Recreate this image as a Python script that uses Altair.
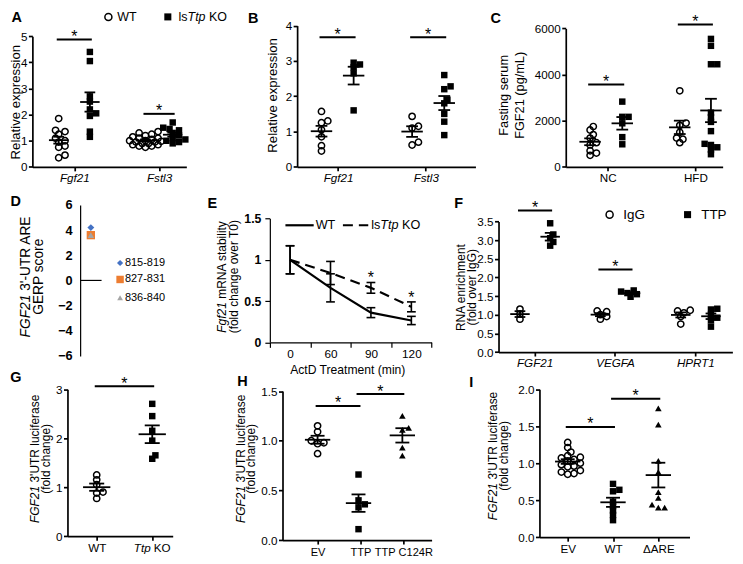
import altair as alt
import numpy as np
import pandas as pd

# ================= data =================
# A  (relative expression, liver)
A_genes = ["Fgf21", "Fstl3"]
A_wt_fgf21 = [1.85, 1.4, 1.35, 1.25, 1.1, 1.0, 0.95, 0.8, 0.75, 0.45, 0.35]
A_ko_fgf21 = [4.4, 4.05, 2.7, 2.5, 2.2, 2.05, 1.95, 1.35, 1.15]
A_wt_fstl3 = [1.35, 1.3, 1.25, 1.2, 1.15, 1.1, 1.1, 1.05, 1.0, 1.0, 0.98, 0.95,
              0.95, 0.9, 0.9, 0.85, 0.85, 0.8, 0.8, 0.75]
A_ko_fstl3 = [1.7, 1.5, 1.45, 1.4, 1.3, 1.2, 1.1, 1.05, 1.0, 0.95, 0.9]
A_sig = [4.88, 2.03]
# B
B_genes = ["Fgf21", "Fstl3"]
B_wt_fgf21 = [1.57, 1.3, 1.25, 1.05, 0.85, 0.6, 0.45]
B_ko_fgf21 = [2.95, 2.9, 2.82, 2.65, 1.6]
B_wt_fstl3 = [1.43, 1.15, 1.1, 0.7, 0.62]
B_ko_fstl3 = [2.6, 2.28, 2.2, 1.9, 1.8, 1.5, 1.28, 0.9]
B_sig = [3.67, 3.67]
# C
C_diets = ["NC", "HFD"]
C_wt_nc = [1750, 1600, 1400, 1250, 1050, 950, 700, 600, 500]
C_ko_nc = [2830, 2170, 2170, 1890, 1290, 980]
C_wt_hfd = [3300, 1900, 1800, 1500, 1250, 1200, 1050]
C_ko_hfd = [5550, 5250, 4450, 4450, 2350, 2150, 1950, 1550, 1000, 950, 850, 750, 550]
C_sig = [3570, 6170]
# D
D_sites = ["815-819", "827-831", "836-840"]
D_gerp = [4.2, 3.6, 3.6]
# E
E_times = ["0", "60", "90", "120"]
E_wt_mean = [1.0, 0.66, 0.36, 0.265]
E_wt_sem = [0.17, 0.17, 0.06, 0.05]
E_ko_mean = [1.0, 0.84, 0.66, 0.43]
E_ko_sem = [0.17, 0.14, 0.065, 0.06]
E_sig = [False, False, True, True]
# F
F_genes = ["FGF21", "VEGFA", "HPRT1"]
F_igg = [[1.15, 1.02, 0.88], [1.1, 1.08, 1.0, 0.95, 0.88], [1.12, 1.1, 1.05, 0.95, 0.75]]
F_ttp = [[3.45, 3.15, 3.05, 2.95, 2.85], [1.65, 1.62, 1.58, 1.55, 1.48],
         [1.16, 1.14, 1.0, 0.92, 0.85, 0.68]]
F_sig = [3.79, 2.21]
# G
G_groups = ["WT", "Ttp KO"]
G_wt = [1.25, 1.15, 1.05, 0.9, 0.88, 0.77]
G_ko = [2.7, 2.45, 2.15, 1.95, 1.65, 1.58]
G_sig = [3.06]
# H
H_groups = ["EV", "TTP", "TTP C124R"]
H_ev = [1.15, 1.09, 1.0, 0.98, 0.97, 0.87]
H_ttp = [0.66, 0.4, 0.36, 0.33, 0.11]
H_mut = [1.25, 1.13, 1.11, 0.93, 0.85]
H_sig = [1.35, 1.47]
# I
I_groups = ["EV", "WT", "ΔARE"]
I_ev = [1.28, 1.21, 1.15, 1.1, 1.08, 1.07, 1.05, 1.03, 1.0, 0.98, 0.96, 0.95,
        0.9, 0.88, 0.86, 0.85]
I_wt = [0.72, 0.64, 0.62, 0.48, 0.42, 0.36, 0.3, 0.23]
I_dare = [1.74, 1.52, 1.03, 0.88, 0.61, 0.53, 0.44, 0.4, 0.4]
I_sig = [1.49, 1.87]

# ================= layout / style helpers =================
SX = 727 / 743
SY = 548 / 564
CW = 727 / 3
CH = 548 / 3
FONT = "Liberation Sans"
D_colors = ["#4472C4", "#ED7D31", "#A5A5A5"]
D_shapes = ["diamond", "square", "triangle-up"]
D_sizes = [48, 70, 42]


def LX(xr, col):
    return SX * (xr - col * 743 / 3)


def LY(yr, row):
    return SY * (yr - row * 188)


CHARW = {' ': 278, "'": 191, '(': 333, ')': 333, '-': 333, '.': 278, '/': 278,
         '*': 389, 'A': 667, 'B': 667, 'C': 722, 'D': 722, 'E': 667, 'F': 611,
         'G': 778, 'H': 722, 'I': 278, 'K': 667, 'L': 556, 'M': 833, 'N': 722,
         'O': 778, 'P': 667, 'R': 722, 'S': 667, 'T': 611, 'U': 722, 'V': 667,
         'W': 944, 'a': 556, 'b': 556, 'c': 500, 'd': 556, 'e': 556, 'f': 278,
         'g': 556, 'h': 556, 'i': 222, 'k': 500, 'l': 222, 'm': 833, 'n': 556,
         'o': 556, 'p': 556, 'r': 333, 's': 500, 't': 278, 'u': 556, 'v': 500,
         'x': 500, 'y': 500}


def tw(s, size):
    return sum(CHARW.get(c, 556) for c in s) * size / 1000.0


def text_layer(s, x, y, size, **kw):
    props = dict(font=FONT, fontSize=size, color="black")
    props.update(kw)
    return alt.Chart(pd.DataFrame({"t": [s]})).mark_text(**props).encode(
        x=alt.value(x), y=alt.value(y), text="t:N")


def rich_h(parts, x, y, size, anchor="left", baseline="middle"):
    total = sum(tw(p, size) for p, _ in parts)
    cur = x if anchor == "left" else x - total / 2
    out = []
    for p, it in parts:
        lead = len(p) - len(p.lstrip())
        out.append(text_layer(p.strip(), cur + tw(p[:lead], size), y, size,
                              align="left", baseline=baseline,
                              fontStyle="italic" if it else "normal"))
        cur += tw(p, size)
    return out


def rich_v(parts, x, yc, size):
    total = sum(tw(p, size) for p, _ in parts)
    cur = yc + total / 2
    out = []
    for p, it in parts:
        lead = len(p) - len(p.lstrip())
        out.append(text_layer(p.strip(), x, cur - tw(p[:lead], size), size,
                              align="left", baseline="middle", angle=270,
                              fontStyle="italic" if it else "normal"))
        cur -= tw(p, size)
    return out


def letter(ch, xr, yr, row, col):
    return text_layer(ch, LX(xr, col), LY(yr, row), 14.5, fontWeight="bold",
                      align="center", baseline="middle")


def make_axis(**kw):
    base = dict(domainColor="black", tickColor="black", labelColor="black",
                labelFont=FONT, grid=False, title=None, labelOverlap=False,
                labelFlush=False)
    base.update(kw)
    return alt.Axis(**base)


def swarm(vals, ypp, d, tight=0.62, step_f=0.45, maxk=5):
    """Deterministic GraphPad-like horizontal spreading of overlapping points."""
    n = len(vals)
    order = sorted(range(n), key=lambda i: vals[i])
    placed = []
    offs = [0.0] * n
    step = d * step_f
    cands = [0.0]
    for m in range(1, maxk + 1):
        cands += [m * step, -m * step]
    for i in order:
        yy = vals[i] * ypp
        best, best_md = 0.0, -1.0
        chosen = None
        for c in cands:
            md = min([((c - px) ** 2 + (yy - py) ** 2) ** 0.5 for px, py in placed] or [1e9])
            if md >= tight * d:
                chosen = c
                break
            if md > best_md:
                best, best_md = c, md
        if chosen is None:
            chosen = best
        placed.append((chosen, yy))
        offs[i] = chosen
    return offs


def panel_dot(row, col, ax, yb, yt, ydom, yticks, yfmt, cat_px, xend, cat_labels,
              italic, groups, sigs, mean_half=11, fs=11.7, lw=1.7, xfs=None):
    xa, xe = LX(ax, col), LX(xend, col)
    c1, cn = LX(cat_px[0], col), LX(cat_px[-1], col)
    n = len(cat_px)
    ppu = (cn - c1) / (n - 1)

    def inv(p):
        return 1 + (p - c1) / ppu

    xsc = alt.Scale(domain=[inv(xa), inv(xe)], range=[xa, xe], nice=False, zero=False)
    y0, y1 = LY(yb, row), LY(yt, row)
    ysc = alt.Scale(domain=list(ydom), range=[y0, y1], nice=False, zero=False)
    ypp = (y0 - y1) / (ydom[1] - ydom[0])
    labs = "[" + ",".join("'%s'" % s for s in cat_labels) + "]"
    xax = make_axis(values=list(range(1, n + 1)), labelExpr=labs + "[round(datum.value)-1]",
                    offset=y0 - CH, tickSize=4, labelPadding=2,
                    labelFontSize=xfs if xfs else fs,
                    labelFontStyle="italic" if italic else "normal",
                    domainWidth=lw, tickWidth=lw)
    yax = make_axis(values=list(yticks), format=yfmt, offset=-xa, tickSize=4,
                    labelPadding=1.5, labelFontSize=fs, domainWidth=lw, tickWidth=lw)

    def X(f):
        return alt.X(f, type="quantitative", scale=xsc, axis=xax)

    def Y(f):
        return alt.Y(f, type="quantitative", scale=ysc, axis=yax)

    d = 7.2 * SX
    pts, rl, centers = [], [], []
    mh = mean_half * SX / ppu
    chw = mh * 0.55
    for g in groups:
        xc = g["cat"] + 1 + g["off"] * SX / ppu
        centers.append(xc)
        vals = g["vals"]
        offs = swarm(vals, ypp, d)
        for v, o in zip(vals, offs):
            pts.append({"x": xc + o / ppu, "y": v, "shape": g["shape"]})
        m = float(np.mean(vals))
        s = float(np.std(vals, ddof=1) / np.sqrt(len(vals)))
        rl += [dict(x=xc - mh, x2=xc + mh, y=m, y2=m),
               dict(x=xc, x2=xc, y=m - s, y2=m + s),
               dict(x=xc - chw, x2=xc + chw, y=m + s, y2=m + s),
               dict(x=xc - chw, x2=xc + chw, y=m - s, y2=m - s)]
    pdf = pd.DataFrame(pts)
    layers = []
    if (pdf["shape"] == "circle").any():
        layers.append(alt.Chart(pdf[pdf["shape"] == "circle"]).mark_point(
            shape="circle", filled=False, stroke="black", strokeWidth=1.5, size=40,
            opacity=1).encode(x=X("x"), y=Y("y")))
    if (pdf["shape"] == "square").any():
        layers.append(alt.Chart(pdf[pdf["shape"] == "square"]).mark_point(
            shape="square", filled=True, color="black", size=42, opacity=1
        ).encode(x=X("x"), y=Y("y")))
    if (pdf["shape"] == "triangle").any():
        layers.append(alt.Chart(pdf[pdf["shape"] == "triangle"]).mark_point(
            shape="triangle-up", filled=True, color="black", size=44, opacity=1
        ).encode(x=X("x"), y=Y("y")))
    layers.append(alt.Chart(pd.DataFrame(rl)).mark_rule(color="black", strokeWidth=1.8).encode(
        x=X("x"), x2="x2:Q", y=Y("y"), y2="y2:Q"))
    sl, st = [], []
    for i, j, yv in sigs:
        a, b = centers[i] - 2 * SX / ppu, centers[j] + 2 * SX / ppu
        sl.append(dict(x=a, x2=b, y=yv, y2=yv))
        st.append(dict(x=(a + b) / 2, y=yv, t="*"))
    layers.append(alt.Chart(pd.DataFrame(sl)).mark_rule(color="black", strokeWidth=2).encode(
        x=X("x"), x2="x2:Q", y=Y("y"), y2="y2:Q"))
    layers.append(alt.Chart(pd.DataFrame(st)).mark_text(
        font=FONT, fontSize=16, color="black", baseline="alphabetic", dy=2.5).encode(
        x=X("x"), y=Y("y"), text="t:N"))
    return layers


# ================= panels =================
# ---- A
pA_layers = panel_dot(0, 0, 24, 162, 27, [0, 5], [0, 1, 2, 3, 4, 5], "d", [67, 154], 182,
                      A_genes, True,
                      [dict(cat=0, off=-16, vals=A_wt_fgf21, shape="circle"),
                       dict(cat=0, off=16, vals=A_ko_fgf21, shape="square"),
                       dict(cat=1, off=-14, vals=A_wt_fstl3, shape="circle"),
                       dict(cat=1, off=14, vals=A_ko_fstl3, shape="square")],
                      [(0, 1, A_sig[0]), (2, 3, A_sig[1])], mean_half=10)
pA_layers += rich_v([("Relative expression", False)], LX(7, 0), LY(95, 0), 13.2)
pA_layers.append(letter("A", 8, 8, 0, 0))
pA_layers.append(alt.Chart(pd.DataFrame({"k": ["WT"]})).mark_point(
    shape="circle", filled=False, stroke="black", strokeWidth=1.5, size=50, opacity=1).encode(
    x=alt.value(LX(102, 0)), y=alt.value(LY(7, 0))))
pA_layers.append(alt.Chart(pd.DataFrame({"k": ["KO"]})).mark_point(
    shape="square", filled=True, color="black", size=50, opacity=1).encode(
    x=alt.value(LX(163, 0)), y=alt.value(LY(7, 0))))
pA_layers.append(text_layer("WT", LX(111, 0), LY(7, 0), 12.5, align="left", baseline="middle"))
pA_layers += rich_h([("ls", False), ("Ttp", True), (" KO", False)], LX(174, 0), LY(7, 0), 12.5)
pA = alt.layer(*pA_layers).properties(width=CW, height=CH)

# ---- B
pB_layers = panel_dot(0, 1, 295, 162, 16, [0, 4], [0, 1, 2, 3, 4], "d", [337, 427], 478,
                      B_genes, True,
                      [dict(cat=0, off=-17, vals=B_wt_fgf21, shape="circle"),
                       dict(cat=0, off=16, vals=B_ko_fgf21, shape="square"),
                       dict(cat=1, off=-14, vals=B_wt_fstl3, shape="circle"),
                       dict(cat=1, off=19, vals=B_ko_fstl3, shape="square")],
                      [(0, 1, B_sig[0]), (2, 3, B_sig[1])], mean_half=11)
pB_layers += rich_v([("Relative expression", False)], LX(270, 1), LY(88, 0), 13.2)
pB_layers.append(letter("B", 250, 9, 0, 1))
pB = alt.layer(*pB_layers).properties(width=CW, height=CH)

# ---- C
pC_layers = panel_dot(0, 2, 570, 162, 19, [0, 6000], [0, 2000, 4000, 6000], "d", [613, 703], 731,
                      C_diets, False,
                      [dict(cat=0, off=-18, vals=C_wt_nc, shape="circle"),
                       dict(cat=0, off=15, vals=C_ko_nc, shape="square"),
                       dict(cat=1, off=-16, vals=C_wt_hfd, shape="circle"),
                       dict(cat=1, off=16, vals=C_ko_hfd, shape="square")],
                      [(0, 1, C_sig[0]), (2, 3, C_sig[1])], mean_half=11)
pC_layers += rich_v([("Fasting serum", False)], LX(507, 2), LY(88, 0), 12.8)
pC_layers += rich_v([("FGF21 (pg/mL)", False)], LX(523, 2), LY(88, 0), 12.8)
pC_layers.append(letter("C", 498, 9, 0, 2))
pC = alt.layer(*pC_layers).properties(width=CW, height=CH)

# ---- D
xsD = alt.Scale(domain=[0, 2], range=[LX(73, 0), LX(95, 0)], nice=False, zero=False)
ysD = alt.Scale(domain=[-6, 6], range=[LY(357, 1), LY(201, 1)], nice=False, zero=False)
yaxD = make_axis(values=[-6, -4, -2, 0, 2, 4, 6], format="d", offset=-LX(73, 0), ticks=False,
                 labelPadding=8, labelFontSize=12.8, labelFontWeight="bold",
                 domainWidth=1.2)
dfD = pd.DataFrame({"site": D_sites, "gerp": D_gerp, "x": [1, 1, 1]})
pD_layers = [alt.Chart(pd.DataFrame({"x": [0], "x2": [2], "y": [0]})).mark_rule(
    color="black", strokeWidth=1.2).encode(
    x=alt.X("x:Q", scale=xsD, axis=None), x2="x2:Q",
    y=alt.Y("y:Q", scale=ysD, axis=yaxD))]
for k in range(3):
    pD_layers.append(alt.Chart(dfD.iloc[[k]]).mark_point(
        shape=D_shapes[k], filled=True, color=D_colors[k], size=D_sizes[k], opacity=1).encode(
        x=alt.X("x:Q", scale=xsD, axis=None), y=alt.Y("gerp:Q", scale=ysD, axis=yaxD)))
for k, yy in enumerate([261, 278, 297]):
    pD_layers.append(alt.Chart(dfD.iloc[[k]]).mark_point(
        shape=D_shapes[k], filled=True, color=D_colors[k], size=D_sizes[k] * 0.8, opacity=1).encode(
        x=alt.value(LX(114, 0)), y=alt.value(LY(yy, 1))))
    pD_layers.append(alt.Chart(dfD.iloc[[k]]).mark_text(
        font=FONT, fontSize=11, color="black", align="left", baseline="middle").encode(
        x=alt.value(LX(119, 0)), y=alt.value(LY(yy, 1)), text="site:N"))
pD_layers += rich_v([("FGF21", True), (" 3'-UTR ARE", False)], LX(17, 0), LY(275, 1), 13.8)
pD_layers += rich_v([("GERP score", False)], LX(31, 0), LY(275, 1), 13.8)
pD_layers.append(letter("D", 7, 198, 1, 0))
pD = alt.layer(*pD_layers).properties(width=CW, height=CH)

# ---- E
rowE, colE = 1, 1
xaE, xeE = LX(267, colE), LX(433, colE)
nE = len(E_times)
bandE = (xeE - xaE) / nE
ppuE = bandE
xsE = alt.Scale(domain=[0, nE], range=[xaE, xeE], nice=False, zero=False)
y0E, y1E = LY(343, rowE), LY(215, rowE)
ysE = alt.Scale(domain=[0, 1.5], range=[y0E, y1E], nice=False, zero=False)
labsE = "[" + ",".join("'%s'" % t for t in E_times) + ",'']"
xaxE = make_axis(values=list(range(nE + 1)), labelExpr=labsE + "[round(datum.value)]",
                 labelOffset=bandE / 2, offset=y0E - CH, tickSize=5, labelPadding=1,
                 labelFontSize=11.8, domainWidth=1.2, tickWidth=1.2)
yaxE = make_axis(values=[0, 0.5, 1, 1.5], labelExpr="'' + datum.value", offset=-xaE,
                 tickSize=5, labelPadding=4, labelFontSize=12.3, labelFontWeight="bold",
                 domainWidth=1.2, tickWidth=1.2)


def XE(f):
    return alt.X(f, type="quantitative", scale=xsE, axis=xaxE)


def YE(f):
    return alt.Y(f, type="quantitative", scale=ysE, axis=yaxE)


dfE = pd.DataFrame({"t": E_times, "pos": [i + 0.5 for i in range(nE)],
                    "wt": E_wt_mean, "wts": E_wt_sem, "ko": E_ko_mean, "kos": E_ko_sem,
                    "sig": E_sig})
capE = 4.5 * SX / ppuE
errE = []
for _, r in dfE.iterrows():
    for m, s in ((r["wt"], r["wts"]), (r["ko"], r["kos"])):
        errE += [dict(x=r["pos"], x2=r["pos"], y=m - s, y2=m + s),
                 dict(x=r["pos"] - capE, x2=r["pos"] + capE, y=m + s, y2=m + s),
                 dict(x=r["pos"] - capE, x2=r["pos"] + capE, y=m - s, y2=m - s)]
starE = dfE[dfE["sig"]].assign(sy=lambda d: d["ko"] + d["kos"], s="*")
pE_layers = [
    alt.Chart(pd.DataFrame(errE)).mark_rule(color="black", strokeWidth=1.6).encode(
        x=XE("x"), x2="x2:Q", y=YE("y"), y2="y2:Q"),
    alt.Chart(dfE).mark_line(color="black", strokeWidth=2.2).encode(x=XE("pos"), y=YE("wt")),
    alt.Chart(dfE).mark_line(color="black", strokeWidth=2.2, strokeDash=[10, 6]).encode(
        x=XE("pos"), y=YE("ko")),
    alt.Chart(starE).mark_text(font=FONT, fontSize=16, color="black", baseline="alphabetic",
                               dy=1).encode(x=XE("pos"), y=YE("sy"), text="s:N"),
    alt.Chart(pd.DataFrame({"k": ["WT"]})).mark_rule(color="black", strokeWidth=2.2).encode(
        x=alt.value(LX(283, colE)), x2=alt.value(LX(312, colE)), y=alt.value(LY(222, rowE))),
    alt.Chart(pd.DataFrame({"k": ["KO"]})).mark_rule(color="black", strokeWidth=2.2,
                                                      strokeDash=[10, 6]).encode(
        x=alt.value(LX(342, colE)), x2=alt.value(LX(368, colE)), y=alt.value(LY(222, rowE))),
    text_layer("WT", LX(314, colE), LY(222, rowE), 12.7, align="left", baseline="middle"),
    text_layer("ActD Treatment (min)", LX(347, colE), LY(371.5, rowE), 12.2, align="center",
               baseline="middle"),
]
pE_layers += rich_h([("ls", False), ("Ttp", True), (" KO", False)], LX(371, colE),
                    LY(222, rowE), 12.7)
pE_layers += rich_v([("Fgf21", True), (" mRNA stability", False)], LX(218, colE),
                    LY(275, rowE), 12)
pE_layers += rich_v([("(fold change over T0)", False)], LX(230, colE), LY(275, rowE), 12)
pE_layers.append(letter("E", 208, 200, 1, 1))
pE = alt.layer(*pE_layers).properties(width=CW, height=CH)

# ---- F
groupsF = []
for k in range(len(F_genes)):
    groupsF.append(dict(cat=k, off=-15, vals=F_igg[k], shape="circle"))
    groupsF.append(dict(cat=k, off=16, vals=F_ttp[k], shape="square"))
pF_layers = panel_dot(1, 2, 501, 353, 218, [0, 3.5], [0, 0.5, 1, 1.5, 2, 2.5, 3, 3.5], ".1f",
                      [538, 620, 703], 741, F_genes, True, groupsF,
                      [(0, 1, F_sig[0]), (2, 3, F_sig[1])], mean_half=10)
pF_layers += rich_v([("RNA enrichment", False)], LX(462.5, 2), LY(286, 1), 12)
pF_layers += rich_v([("(fold over IgG)", False)], LX(473.5, 2), LY(286, 1), 12)
pF_layers.append(letter("F", 460, 200, 1, 2))
pF_layers.append(alt.Chart(pd.DataFrame({"k": ["IgG"]})).mark_point(
    shape="circle", filled=False, stroke="black", strokeWidth=1.5, size=50, opacity=1).encode(
    x=alt.value(LX(615, 2)), y=alt.value(LY(211, 1))))
pF_layers.append(alt.Chart(pd.DataFrame({"k": ["TTP"]})).mark_point(
    shape="square", filled=True, color="black", size=50, opacity=1).encode(
    x=alt.value(LX(695, 2)), y=alt.value(LY(211, 1))))
pF_layers.append(text_layer("IgG", LX(629, 2), LY(211, 1), 13.5, align="left", baseline="middle"))
pF_layers.append(text_layer("TTP", LX(709, 2), LY(211, 1), 13.5, align="left", baseline="middle"))
pF = alt.layer(*pF_layers).properties(width=CW, height=CH)

# ---- G
pG_layers = panel_dot(2, 0, 60, 543, 391, [0, 3], [0, 1, 2, 3], "d", [90, 147], 168,
                      ["WT", ""], False,
                      [dict(cat=0, off=0, vals=G_wt, shape="circle"),
                       dict(cat=1, off=0, vals=G_ko, shape="square")],
                      [(0, 1, G_sig[0])], mean_half=14)
pG_layers += rich_h([("Ttp", True), (" KO", False)], LX(147, 0), LY(543, 2) + 6.8, 11.7,
                    anchor="center", baseline="top")
pG_layers += rich_v([("FGF21", True), (" 3'UTR luciferase", False)], LX(27, 0), LY(463, 2), 12)
pG_layers += rich_v([("(fold change)", False)], LX(38, 0), LY(463, 2), 12)
pG_layers.append(letter("G", 7, 380, 2, 0))
pG = alt.layer(*pG_layers).properties(width=CW, height=CH)

# ---- H
pH_layers = panel_dot(2, 1, 280, 547, 393, [0, 1.5], [0, 0.5, 1, 1.5], ".1f", [316, 360, 404], 433,
                      H_groups, False,
                      [dict(cat=0, off=0, vals=H_ev, shape="circle"),
                       dict(cat=1, off=-2, vals=H_ttp, shape="square"),
                       dict(cat=2, off=-1, vals=H_mut, shape="triangle")],
                      [(0, 1, H_sig[0]), (1, 2, H_sig[1])], mean_half=13, xfs=11.1)
pH_layers += rich_v([("FGF21", True), (" 3'UTR luciferase", False)], LX(237, 1), LY(463, 2), 12)
pH_layers += rich_v([("(fold change)", False)], LX(248, 1), LY(463, 2), 12)
pH_layers.append(letter("H", 239, 384, 2, 1))
pH = alt.layer(*pH_layers).properties(width=CW, height=CH)

# ---- I
pI_layers = panel_dot(2, 2, 543, 544, 391, [0, 2], [0, 0.5, 1, 1.5, 2], ".1f", [572, 618, 665], 697,
                      I_groups, False,
                      [dict(cat=0, off=0, vals=I_ev, shape="circle"),
                       dict(cat=1, off=0, vals=I_wt, shape="square"),
                       dict(cat=2, off=0, vals=I_dare, shape="triangle")],
                      [(0, 1, I_sig[0]), (1, 2, I_sig[1])], mean_half=13)
pI_layers += rich_v([("FGF21", True), (" 3'UTR luciferase", False)], LX(495, 2), LY(460, 2), 12)
pI_layers += rich_v([("(fold change)", False)], LX(507, 2), LY(460, 2), 12)
pI_layers.append(letter("I", 473, 385, 2, 2))
pI = alt.layer(*pI_layers).properties(width=CW, height=CH)

chart = alt.concat(pA, pB, pC, pD, pE, pF, pG, pH, pI, columns=3, spacing=0,
                   bounds="flush", align="all").properties(
    padding=0, background="white").configure_view(stroke="transparent")

chart.save("out.html", embed_options={"renderer": "svg", "actions": False})
